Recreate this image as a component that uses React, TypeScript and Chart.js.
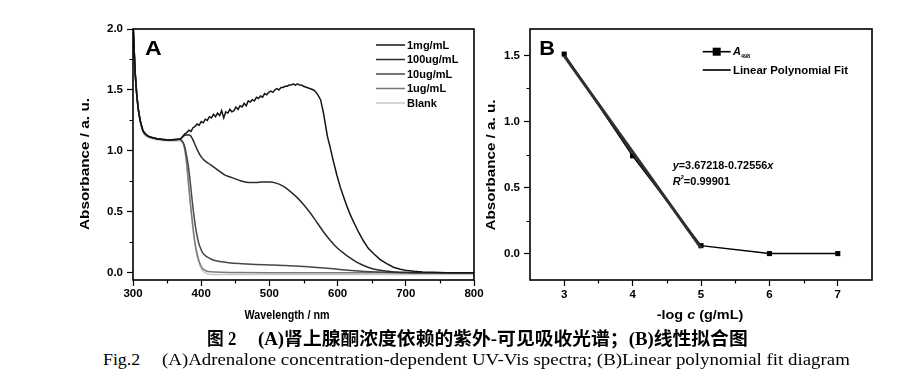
import React, { useEffect, useLayoutEffect, useRef } from "react";
import { Chart, registerables } from "chart.js";
Chart.register(...registerables);

// ---------------- Panel A data (UV-Vis spectra) ----------------
const commonWl = [300, 300.5, 303, 305.4, 307.8, 311.3, 315, 322, 335, 354, 368];
const commonAbs = [2.05, 1.99, 1.66, 1.47, 1.34, 1.23, 1.16, 1.12, 1.1, 1.09, 1.095];

const wl1mg = [370, 373, 376, 379, 382, 385, 388, 391, 394, 397, 400, 403, 406, 409, 412, 415, 418, 421, 424, 427, 430, 433, 436, 439, 442, 445, 448, 451, 454, 457, 460, 463, 466, 469, 472, 475, 478, 481, 484, 487, 490, 493, 496, 499, 502, 505, 508, 511, 514, 517, 520, 523, 526, 529, 532, 535, 538, 541, 544, 547, 550, 555, 560, 565, 570, 575, 579, 582, 585, 589, 594, 599, 604, 609, 614, 619, 624, 631, 638, 645, 653, 662, 672, 682, 692, 702, 712, 725, 740, 760, 800];
const abs1mg = [1.1, 1.12, 1.14, 1.15, 1.17, 1.16, 1.19, 1.2, 1.22, 1.21, 1.24, 1.23, 1.26, 1.25, 1.28, 1.27, 1.3, 1.28, 1.31, 1.29, 1.33, 1.27, 1.32, 1.31, 1.34, 1.32, 1.33, 1.36, 1.34, 1.37, 1.36, 1.39, 1.37, 1.41, 1.4, 1.42, 1.41, 1.44, 1.43, 1.45, 1.44, 1.47, 1.46, 1.48, 1.49, 1.48, 1.5, 1.51, 1.5, 1.52, 1.52, 1.53, 1.53, 1.54, 1.54, 1.55, 1.54, 1.55, 1.54, 1.54, 1.53, 1.52, 1.51, 1.5, 1.47, 1.42, 1.32, 1.22, 1.12, 1.03, 0.91, 0.8, 0.7, 0.62, 0.54, 0.47, 0.41, 0.33, 0.26, 0.2, 0.155, 0.11, 0.075, 0.045, 0.028, 0.017, 0.011, 0.006, 0.003, 0.0, 0.0];

const wl100ug = [370, 374, 378, 382, 385, 388, 391, 395, 400, 405, 410, 415, 420, 425, 430, 435, 440, 445, 450, 455, 460, 470, 480, 490, 500, 510, 520, 530, 540, 550, 560, 570, 580, 590, 600, 610, 620, 630, 640, 650, 660, 670, 680, 700, 720, 800];
const abs100ug = [1.1, 1.12, 1.13, 1.13, 1.12, 1.09, 1.05, 1.0, 0.95, 0.92, 0.9, 0.88, 0.86, 0.84, 0.82, 0.8, 0.79, 0.78, 0.77, 0.76, 0.75, 0.74, 0.74, 0.745, 0.745, 0.735, 0.71, 0.67, 0.62, 0.56, 0.49, 0.41, 0.33, 0.26, 0.2, 0.155, 0.115, 0.08, 0.055, 0.035, 0.022, 0.013, 0.008, 0.003, 0.0, 0.0];

const wl10ug = [372, 375, 378, 381, 384, 387, 390, 393, 396, 399, 402, 406, 410, 415, 420, 430, 440, 460, 480, 500, 520, 540, 560, 580, 600, 620, 640, 660, 680, 700, 800];
const abs10ug = [1.08, 1.05, 0.98, 0.88, 0.74, 0.58, 0.44, 0.33, 0.25, 0.2, 0.165, 0.14, 0.125, 0.11, 0.1, 0.09, 0.082, 0.074, 0.068, 0.064, 0.06, 0.055, 0.047, 0.038, 0.028, 0.018, 0.01, 0.005, 0.002, 0.0, 0.0];

const wl1ug = [372, 375, 378, 381, 384, 387, 390, 393, 396, 399, 402, 406, 410, 420, 450, 500, 800];
const abs1ug = [1.08, 1.04, 0.93, 0.76, 0.58, 0.42, 0.28, 0.18, 0.11, 0.065, 0.035, 0.018, 0.01, 0.005, 0.002, 0.0, 0.0];

const wlBlank = [300, 300.5, 303, 305.4, 307.8, 311.3, 315, 322, 335, 354, 368, 372, 375, 378, 381, 384, 387, 390, 393, 396, 399, 402, 406, 410, 420, 500, 800];
const absBlank = [2.05, 1.99, 1.65, 1.46, 1.33, 1.22, 1.15, 1.11, 1.09, 1.08, 1.08, 1.07, 1.03, 0.92, 0.74, 0.56, 0.4, 0.26, 0.16, 0.09, 0.045, 0.015, 0.0, -0.01, -0.015, -0.015, -0.015];

const seriesNamesA = ["1mg/mL", "100ug/mL", "10ug/mL", "1ug/mL", "Blank"];
const seriesColorsA = ["#151515", "#2b2b2b", "#474747", "#7a7a7a", "#c9c9c9"];

const xTicksA = [300, 400, 500, 600, 700, 800];
const xMinorA = [350, 450, 550, 650, 750];
const yTicksA = [0, 0.5, 1.0, 1.5, 2.0];
const yMinorA = [0.25, 0.75, 1.25, 1.75];

// ---------------- Panel B data (linear fit) ----------------
const logC = [3, 4, 5, 6, 7];
const a498 = [1.51, 0.74, 0.06, 0.0, 0.0];
const fitX = [3, 5];
const fitY = [1.496, 0.044];
const xTicksB = [3, 4, 5, 6, 7];
const xMinorB = [3.5, 4.5, 5.5, 6.5];
const yTicksB = [0, 0.5, 1.0, 1.5];
const yMinorB = [0.25, 0.75, 1.25];

// ---------------- helpers ----------------
const SANS = '"Liberation Sans", Arial, sans-serif';
const bold = (s: number) => `bold ${s}px ${SANS}`;
const boldIt = (s: number) => `italic bold ${s}px ${SANS}`;

type Run = { t: string; f: string; dy?: number };

function drawRuns(
  ctx: CanvasRenderingContext2D,
  runs: Run[],
  x: number,
  y: number,
  opts: { width?: number; align?: "left" | "center"; rotate?: number } = {}
) {
  ctx.save();
  let total = 0;
  const ws = runs.map((r) => {
    ctx.font = r.f;
    const w = ctx.measureText(r.t).width;
    total += w;
    return w;
  });
  const k = opts.width ? opts.width / total : 1;
  ctx.translate(x, y);
  if (opts.rotate) ctx.rotate(opts.rotate);
  ctx.scale(k, 1);
  ctx.fillStyle = "#000";
  ctx.textBaseline = "middle";
  ctx.textAlign = "left";
  let cx = opts.align === "center" ? -total / 2 : 0;
  runs.forEach((r, i) => {
    ctx.font = r.f;
    ctx.fillText(r.t, cx, r.dy || 0);
    cx += ws[i];
  });
  ctx.restore();
}

function drawFrameAndMinor(chart: any, xMinor: number[], yMinor: number[]) {
  const { ctx, chartArea } = chart;
  const xs = chart.scales.x;
  const ys = chart.scales.y;
  ctx.save();
  ctx.strokeStyle = "#000";
  ctx.lineWidth = 1.2;
  ctx.beginPath();
  xMinor.forEach((v) => {
    const px = Math.round(xs.getPixelForValue(v)) + 0.5;
    ctx.moveTo(px, chartArea.bottom);
    ctx.lineTo(px, chartArea.bottom + 3.5);
  });
  yMinor.forEach((v) => {
    const py = Math.round(ys.getPixelForValue(v)) + 0.5;
    ctx.moveTo(chartArea.left, py);
    ctx.lineTo(chartArea.left - 3.5, py);
  });
  ctx.stroke();
  ctx.lineWidth = 1.6;
  ctx.strokeRect(chartArea.left, chartArea.top, chartArea.right - chartArea.left, chartArea.bottom - chartArea.top);
  ctx.restore();
}

const tickFont = { family: SANS, size: 11.5, weight: "bold" as const };

function axisCommon(extra: any) {
  return {
    type: "linear",
    grid: { display: true, drawOnChartArea: false, drawTicks: true, tickLength: 6, tickColor: "#000", tickWidth: 1.2 },
    border: { display: false },
    ...extra,
  };
}

function configA(): any {
  const wls = [wl1mg, wl100ug, wl10ug, wl1ug];
  const abss = [abs1mg, abs100ug, abs10ug, abs1ug];
  const datasets: any[] = wls.map((wl, i) => {
    const xs = commonWl.concat(wl);
    const ys = commonAbs.concat(abss[i]);
    return {
      label: seriesNamesA[i],
      data: xs.map((x, j) => ({ x, y: ys[j] })),
      borderColor: seriesColorsA[i],
      borderWidth: 1.5,
      pointRadius: 0,
      cubicInterpolationMode: i === 0 ? "default" : "monotone",
      tension: 0,
    };
  });
  datasets.push({
    label: seriesNamesA[4],
    data: wlBlank.map((x, j) => ({ x, y: absBlank[j] })),
    borderColor: seriesColorsA[4],
    borderWidth: 1.5,
    pointRadius: 0,
    cubicInterpolationMode: "monotone",
  });

  const decor = {
    id: "decorA",
    afterDraw(chart: any) {
      const ctx = chart.ctx as CanvasRenderingContext2D;
      drawFrameAndMinor(chart, xMinorA, yMinorA);
      drawRuns(ctx, [{ t: "A", f: bold(20) }], 145, 49, { width: 16.7 });
      const rowsY = [45, 59.5, 74, 88.5, 103];
      seriesNamesA.forEach((name, i) => {
        ctx.save();
        ctx.strokeStyle = seriesColorsA[i];
        ctx.lineWidth = 1.5;
        ctx.beginPath();
        ctx.moveTo(376, rowsY[i]);
        ctx.lineTo(405, rowsY[i]);
        ctx.stroke();
        ctx.restore();
        drawRuns(ctx, [{ t: name, f: bold(11) }], 407, rowsY[i] + 0.5);
      });
      drawRuns(ctx, [{ t: "Wavelength / nm", f: bold(13.5) }], 287, 315, { width: 85, align: "center" });
      drawRuns(ctx, [{ t: "Absorbance / a. u.", f: bold(13.5) }], 85, 164, { width: 132, align: "center", rotate: -Math.PI / 2 });
    },
  };

  return {
    type: "line",
    data: { datasets },
    options: {
      animation: false,
      responsive: false,
      maintainAspectRatio: false,
      layout: { padding: { left: 0, top: 29, right: 21, bottom: 0 } },
      plugins: { legend: { display: false }, tooltip: { enabled: false } },
      scales: {
        x: axisCommon({
          min: 300,
          max: 800,
          afterBuildTicks: (s: any) => {
            s.ticks = xTicksA.map((v) => ({ value: v }));
          },
          afterFit: (s: any) => {
            s.height = 50;
            s.paddingLeft = 0;
            s.paddingRight = 0;
          },
          ticks: { color: "#000", font: tickFont, padding: 1, maxRotation: 0, autoSkip: false, callback: (v: any) => String(v) },
        }),
        y: axisCommon({
          min: -0.06,
          max: 2.0,
          afterBuildTicks: (s: any) => {
            s.ticks = yTicksA.map((v) => ({ value: v }));
          },
          afterFit: (s: any) => {
            s.width = 133;
            s.paddingTop = 0;
            s.paddingBottom = 0;
          },
          ticks: { color: "#000", font: tickFont, padding: 4, autoSkip: false, callback: (v: any) => Number(v).toFixed(1) },
        }),
      },
    },
    plugins: [decor],
  };
}

function configB(): any {
  const datasets: any[] = [
    {
      label: "Linear Polynomial Fit",
      data: fitX.map((x, i) => ({ x, y: fitY[i] })),
      borderColor: "#2e2e2e",
      borderWidth: 3,
      pointRadius: 0,
    },
    {
      label: "A498",
      data: logC.map((x, i) => ({ x, y: a498[i] })),
      borderColor: "#000",
      borderWidth: 1.5,
      pointStyle: "rect",
      pointRadius: 3.6,
      pointBackgroundColor: "#000",
      pointBorderColor: "#000",
      pointBorderWidth: 0,
    },
  ];

  const decor = {
    id: "decorB",
    afterDraw(chart: any) {
      const ctx = chart.ctx as CanvasRenderingContext2D;
      drawFrameAndMinor(chart, xMinorB, yMinorB);
      drawRuns(ctx, [{ t: "B", f: bold(20) }], 59.3, 49, { width: 15.7 });
      ctx.save();
      ctx.strokeStyle = "#000";
      ctx.lineWidth = 1.6;
      ctx.beginPath();
      ctx.moveTo(222.7, 51.7);
      ctx.lineTo(250.7, 51.7);
      ctx.stroke();
      ctx.fillStyle = "#000";
      ctx.fillRect(236.7 - 4, 51.7 - 4, 8, 8);
      ctx.strokeStyle = "#2e2e2e";
      ctx.lineWidth = 2;
      ctx.beginPath();
      ctx.moveTo(222.7, 70);
      ctx.lineTo(250.7, 70);
      ctx.stroke();
      ctx.restore();
      drawRuns(ctx, [{ t: "A", f: boldIt(11) }, { t: "498", f: bold(5.5), dy: 4 }], 253, 52);
      drawRuns(ctx, [{ t: "Linear Polynomial Fit", f: bold(11) }], 253, 70.5, { width: 115 });
      drawRuns(
        ctx,
        [
          { t: "y", f: boldIt(10.5) },
          { t: "=3.67218-0.72556", f: bold(10.5) },
          { t: "x", f: boldIt(10.5) },
        ],
        192.7,
        165.7,
        { width: 100.6 }
      );
      drawRuns(
        ctx,
        [
          { t: "R", f: boldIt(10.5) },
          { t: "2", f: bold(5.5), dy: -4 },
          { t: "=0.99901", f: bold(10.5) },
        ],
        192.7,
        181.7,
        { width: 57.3 }
      );
      drawRuns(ctx, [{ t: "-log ", f: bold(13.5) }, { t: "c", f: boldIt(13.5) }, { t: " (g/mL)", f: bold(13.5) }], 220, 315, {
        width: 86.7,
        align: "center",
      });
      drawRuns(ctx, [{ t: "Absorbance / a. u.", f: bold(13.5) }], 11.7, 165, { width: 131, align: "center", rotate: -Math.PI / 2 });
    },
  };

  return {
    type: "line",
    data: { datasets },
    options: {
      animation: false,
      responsive: false,
      maintainAspectRatio: false,
      layout: { padding: { left: 0, top: 29, right: 43, bottom: 0 } },
      plugins: { legend: { display: false }, tooltip: { enabled: false } },
      scales: {
        x: axisCommon({
          min: 2.5,
          max: 7.5,
          afterBuildTicks: (s: any) => {
            s.ticks = xTicksB.map((v) => ({ value: v }));
          },
          afterFit: (s: any) => {
            s.height = 50;
            s.paddingLeft = 0;
            s.paddingRight = 0;
          },
          ticks: { color: "#000", font: tickFont, padding: 2, maxRotation: 0, autoSkip: false, callback: (v: any) => String(v) },
        }),
        y: axisCommon({
          min: -0.2,
          max: 1.7,
          afterBuildTicks: (s: any) => {
            s.ticks = yTicksB.map((v) => ({ value: v }));
          },
          afterFit: (s: any) => {
            s.width = 50;
            s.paddingTop = 0;
            s.paddingBottom = 0;
          },
          ticks: { color: "#000", font: tickFont, padding: 4, autoSkip: false, callback: (v: any) => Number(v).toFixed(1) },
        }),
      },
    },
    plugins: [decor],
  };
}

function FitText(props: { left: number; cy: number; width: number; style: React.CSSProperties; children: React.ReactNode }) {
  const ref = useRef<HTMLSpanElement>(null);
  useLayoutEffect(() => {
    const el = ref.current;
    if (!el) return;
    el.style.transform = "translateY(-50%)";
    const w = el.offsetWidth;
    const k = w > 0 ? props.width / w : 1;
    el.style.transform = `translateY(-50%) scaleX(${k})`;
  }, []);
  return (
    <span
      ref={ref}
      style={{
        position: "absolute",
        left: props.left,
        top: props.cy,
        whiteSpace: "pre",
        transformOrigin: "0 50%",
        lineHeight: 1,
        color: "#000",
        ...props.style,
      }}
    >
      {props.children}
    </span>
  );
}

export default function App() {
  const refA = useRef<HTMLCanvasElement>(null);
  const refB = useRef<HTMLCanvasElement>(null);
  useEffect(() => {
    const a = new Chart(refA.current as HTMLCanvasElement, configA());
    const b = new Chart(refB.current as HTMLCanvasElement, configB());
    return () => {
      a.destroy();
      b.destroy();
    };
  }, []);
  const zh: React.CSSProperties = { fontFamily: '"Liberation Serif", "Noto Sans CJK SC", serif', fontWeight: "bold", fontSize: 18 };
  const en: React.CSSProperties = { fontFamily: '"Liberation Serif", "Times New Roman", serif', fontSize: 16 };
  return (
    <div style={{ position: "absolute", left: 0, top: 0, width: 915, height: 384, background: "#fff", overflow: "hidden" }}>
      <canvas ref={refA} width={495} height={330} style={{ position: "absolute", left: 0, top: 0 }} />
      <canvas ref={refB} width={435} height={330} style={{ position: "absolute", left: 480, top: 0 }} />
      <FitText left={207} cy={338.5} width={29.7} style={zh}>
        图 2
      </FitText>
      <FitText left={258.3} cy={338.5} width={489.7} style={zh}>
        (A)肾上腺酮浓度依赖的紫外-可见吸收光谱；(B)线性拟合图
      </FitText>
      <FitText left={103.3} cy={359.5} width={36.7} style={en}>
        Fig.2
      </FitText>
      <FitText left={161.7} cy={359.5} width={688.3} style={en}>
        (A)Adrenalone concentration-dependent UV-Vis spectra; (B)Linear polynomial fit diagram
      </FitText>
    </div>
  );
}
